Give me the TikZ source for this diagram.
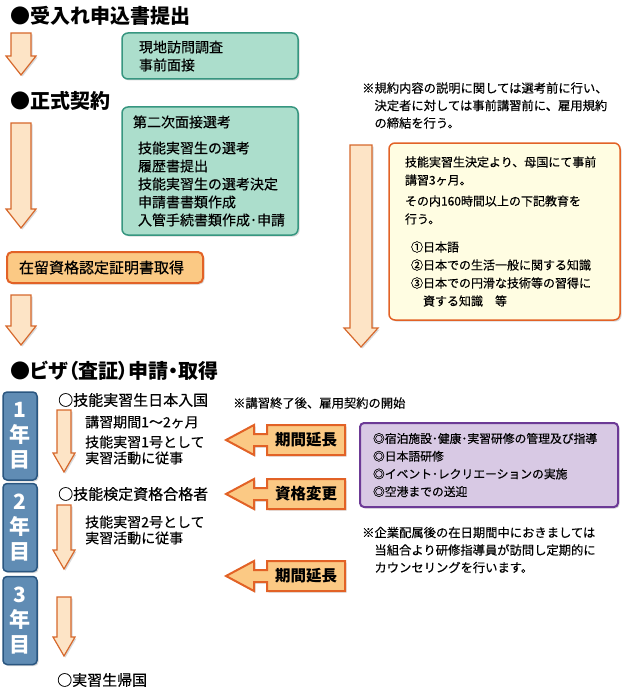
\documentclass[tikz,border=0pt]{standalone}
\usepackage{fontspec}
\setmainfont{Noto Sans CJK JP}[UprightFeatures={FakeBold=0.35}]
\usetikzlibrary{shadows}
\definecolor{mintfill}{RGB}{172,222,204}
\definecolor{mintline}{RGB}{55,150,128}
\definecolor{peachfill}{RGB}{253,228,198}
\definecolor{peachline}{RGB}{214,104,44}
\definecolor{tagfill}{RGB}{251,201,132}
\definecolor{tagline}{RGB}{226,98,38}
\definecolor{creamfill}{RGB}{255,253,226}
\definecolor{lilacfill}{RGB}{216,201,228}
\definecolor{lilacline}{RGB}{108,58,150}
\definecolor{yearfill}{RGB}{96,140,180}
\definecolor{yearline}{RGB}{42,86,128}

\begin{document}
\begin{tikzpicture}[x=1pt, y=-1pt,
  softshadow/.style={drop shadow={opacity=0.3, shadow xshift=1.5pt, shadow yshift=-1.5pt}},
  heading/.style={anchor=west, inner sep=0, font=\fontsize{20}{24}\selectfont\bfseries},
  steplabel/.style={anchor=west, inner sep=0, font=\fontsize{15}{18}\selectfont},
  detail/.style={anchor=west, inner sep=0, align=left, font=\fontsize{14}{16}\selectfont},
  remark/.style={anchor=west, inner sep=0, align=left, font=\fontsize{12.3}{17.5}\selectfont},
  greenbox/.style={draw=mintline, fill=mintfill, line width=1.5pt, rounded corners=6pt, align=left, inner ysep=0, softshadow, font=\fontsize{14}{18}\selectfont},
  certbox/.style={draw=tagline, fill=tagfill, line width=2pt, rounded corners=5pt, align=left, inner ysep=0, softshadow, font=\fontsize{15}{18}\selectfont},
  creambox/.style={draw=tagline, fill=creamfill, line width=1.5pt, rounded corners=6pt, align=left, inner ysep=0, softshadow, font=\fontsize{12}{18}\selectfont},
  lilacbox/.style={draw=lilacline, fill=lilacfill, line width=2pt, rounded corners=4pt, align=left, inner ysep=0, softshadow, font=\fontsize{11.8}{17.7}\selectfont},
  yearbox/.style={draw=yearline, fill=yearfill, line width=1.5pt, rounded corners=4pt, minimum width=34pt, minimum height=88pt, inner sep=0, align=center, text=white, softshadow, font=\fontsize{21}{25}\selectfont\bfseries},
  bigarrow/.style={draw=peachline, fill=peachfill, line width=1.2pt, softshadow},
  tagshape/.style={draw=tagline, fill=tagfill, line width=2pt, softshadow},
  tagtext/.style={inner sep=0, font=\fontsize{15.5}{18}\selectfont\bfseries}]
  \useasboundingbox (0,0) rectangle (630,690);

  \node[heading] (accept) at (10,16) {●受入れ申込書提出};
  \node[heading] (contract) at (10,101) {●正式契約};
  \node[heading] (visa) at (10,371) {\addfontfeatures{RawFeature=+palt}●ビザ（査証）申請・取得};

  \node[greenbox, text width=142pt, inner xsep=17pt, minimum height=46pt] (visit) at (210,56) {現地訪問調査\\事前面接};
  \node[greenbox, text width=154pt, inner xsep=11pt, minimum height=128pt] (second) at (210,171)
    {第二次面接選考\\[8pt]\hspace*{5pt}技能実習生の選考\\\hspace*{5pt}履歴書提出\\\hspace*{5pt}技能実習生の選考決定\\\hspace*{5pt}申請書書類作成\\\hspace*{5pt}入管手続書類作成･申請};
  \node[certbox, text width=172pt, inner xsep=12pt, minimum height=31pt] (cert) at (105,267.5) {在留資格認定証明書取得};

  \node[remark] (explain) at (362,105.5) {※規約内容の説明に関しては選考前に行い、\\\hspace*{1em}決定者に対しては事前講習前に、雇用規約\\\hspace*{1em}の締結を行う。};
  \node[creambox, text width=199pt, inner xsep=16pt, minimum height=177pt] (prep) at (504.5,231.5)
    {技能実習生決定より、母国にて事前\\講習3ヶ月。\\[3pt]その内160時間以上の下記教育を\\行う。\\[10pt]
     \hspace*{6pt}①日本語\\\hspace*{6pt}②日本での生活一般に関する知識\\\hspace*{6pt}③日本での円滑な技術等の習得に\\\hspace*{6pt}\hspace*{1em}資する知識\hspace*{1em}等};

  \foreach \x/\a/\b/\w/\h in {21/33/75/10/15, 21/123/228/10/15, 21/295/345/10/15, 361/145/347/11/17,
                              64/410/472/7/11, 64/505/569/7/11, 64/597/656/7/11}
    \draw[bigarrow] (\x-\w,\a) -- (\x+\w,\a) -- (\x+\w,\b-19) -- (\x+\h,\b-19) -- (\x,\b)
      -- (\x-\h,\b-19) -- (\x-\w,\b-19) -- cycle;

  \foreach \n/\yc in {1/436, 2/527.5, 3/620.5}
    \node[yearbox] (year\n) at (20,\yc) {\n\\年\\目};

  \node[steplabel] (entry) at (58,400) {○技能実習生日本入国};
  \node[detail] (lecture) at (85,422) {講習期間1～2ヶ月};
  \node[detail] (grade1) at (85,450) {技能実習1号として\\実習活動に従事};
  \node[steplabel] (exam) at (58,494) {○技能検定資格合格者};
  \node[detail] (grade2) at (85,530) {技能実習2号として\\実習活動に従事};
  \node[steplabel] (home) at (57,680) {○実習生帰国};

  \node[remark] (hire) at (233,403) {※講習終了後、雇用契約の開始};
  \foreach \yc/\t/\n in {440/期間延長/extendA, 494/資格変更/change, 576/期間延長/extendB} {
    \draw[tagshape] (345,\yc-15) -- (345,\yc+15) -- (267,\yc+15) -- (267,\yc+6) -- (254,\yc+6) -- (254,\yc+15)
      -- (226,\yc) -- (254,\yc-15) -- (254,\yc-6) -- (267,\yc-6) -- (267,\yc-15) -- cycle;
    \node[tagtext] (\n) at (306,\yc) {\t};
  }
  \node[lilacbox, text width=232pt, inner xsep=13pt, minimum height=84pt] (support) at (489,465)
    {◎宿泊施設･健康･実習研修の管理及び指導\\◎日本語研修\\◎イベント･レクリエーションの実施\\◎空港までの送迎};
  \node[remark] (visits) at (362,550) {※企業配属後の在日期間中におきましては\\\hspace*{1em}当組合より研修指導員が訪問し定期的に\\\hspace*{1em}カウンセリングを行います。};
\end{tikzpicture}
\end{document}
